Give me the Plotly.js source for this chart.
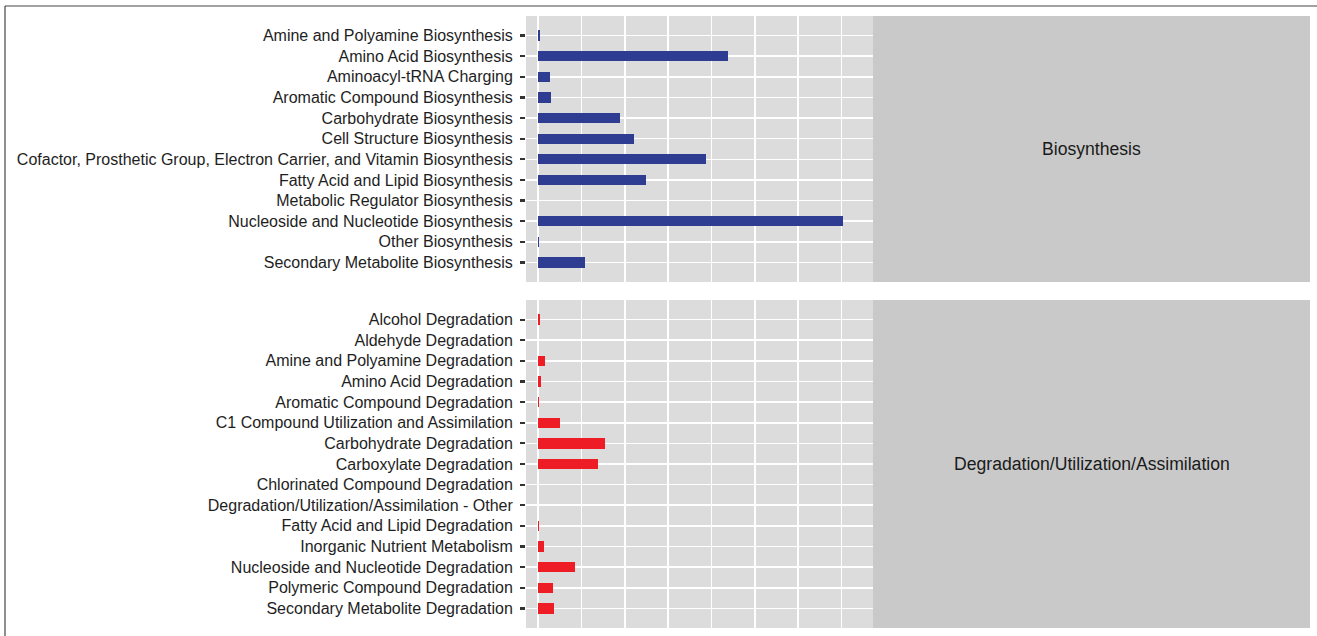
<!DOCTYPE html>
<html>
<head>
<meta charset="utf-8">
<script src="https://cdn.plot.ly/plotly-3.0.1.min.js"></script>
<style>
  html, body { margin: 0; padding: 0; background: #ffffff; }
  #chart { width: 1317px; height: 636px; }
</style>
</head>
<body>
<div id="chart"></div>
<script>
// ---- data ----
const bioCategories = [
  "Amine and Polyamine Biosynthesis",
  "Amino Acid Biosynthesis",
  "Aminoacyl-tRNA Charging",
  "Aromatic Compound Biosynthesis",
  "Carbohydrate Biosynthesis",
  "Cell Structure Biosynthesis",
  "Cofactor, Prosthetic Group, Electron Carrier, and Vitamin Biosynthesis",
  "Fatty Acid and Lipid Biosynthesis",
  "Metabolic Regulator Biosynthesis",
  "Nucleoside and Nucleotide Biosynthesis",
  "Other Biosynthesis",
  "Secondary Metabolite Biosynthesis"
];
const bioValues = [0.05, 4.38, 0.27, 0.30, 1.90, 2.22, 3.88, 2.48, 0, 7.04, 0.03, 1.08];

const degCategories = [
  "Alcohol Degradation",
  "Aldehyde Degradation",
  "Amine and Polyamine Degradation",
  "Amino Acid Degradation",
  "Aromatic Compound Degradation",
  "C1 Compound Utilization and Assimilation",
  "Carbohydrate Degradation",
  "Carboxylate Degradation",
  "Chlorinated Compound Degradation",
  "Degradation/Utilization/Assimilation - Other",
  "Fatty Acid and Lipid Degradation",
  "Inorganic Nutrient Metabolism",
  "Nucleoside and Nucleotide Degradation",
  "Polymeric Compound Degradation",
  "Secondary Metabolite Degradation"
];
const degValues = [0.05, 0, 0.15, 0.08, 0.02, 0.51, 1.55, 1.38, 0, 0, 0.03, 0.14, 0.85, 0.35, 0.37];

const facetLabels = ["Biosynthesis", "Degradation/Utilization/Assimilation"];

// ---- styling ----
const W = 1317, H = 636;
const L = 526, R = 873, T = 16, B = 628;
const plotW = R - L, plotH = B - T;
const px2x = p => (p - L) / plotW;
const px2y = p => (B - p) / plotH;

const panel1 = [16, 282], panel2 = [300, 628];
const stripR = 1310;
const font = "Liberation Sans, Arial, Helvetica, sans-serif";

const traces = [
  {
    type: "bar", orientation: "h",
    x: bioValues, y: bioCategories,
    xaxis: "x", yaxis: "y",
    width: 0.5,
    marker: { color: "#2e3d91", line: { width: 0 } },
    hoverinfo: "x+y"
  },
  {
    type: "bar", orientation: "h",
    x: degValues, y: degCategories,
    xaxis: "x2", yaxis: "y2",
    width: 0.5,
    marker: { color: "#ee1c25", line: { width: 0 } },
    hoverinfo: "x+y"
  }
];

const xCommon = {
  range: [-0.277, 7.728],
  dtick: 1, tick0: 0,
  showticklabels: false,
  ticks: "",
  showgrid: true, gridcolor: "#ffffff", gridwidth: 1.6,
  zeroline: false, showline: false,
  fixedrange: true
};
const yCommon = {
  type: "category",
  showgrid: true, gridcolor: "#ffffff", gridwidth: 1.6,
  ticks: "outside", ticklen: 5, tickwidth: 2.2, tickcolor: "#333333",
  ticklabelstandoff: 4,
  tickfont: { family: font, size: 16, color: "#1e1e1e" },
  zeroline: false, showline: false,
  automargin: false,
  fixedrange: true
};

const layout = {
  width: W, height: H,
  margin: { l: L, r: W - R, t: T, b: H - B, pad: 0 },
  paper_bgcolor: "#ffffff",
  plot_bgcolor: "#dcdcdc",
  showlegend: false,
  bargap: 0,
  xaxis: Object.assign({}, xCommon, { domain: [0, 1], anchor: "y" }),
  xaxis2: Object.assign({}, xCommon, { domain: [0, 1], anchor: "y2" }),
  yaxis: Object.assign({}, yCommon, {
    domain: [px2y(panel1[1]), px2y(panel1[0])],
    anchor: "x",
    categoryorder: "array", categoryarray: bioCategories,
    range: [bioCategories.length - 1 + 0.95, -0.95]
  }),
  yaxis2: Object.assign({}, yCommon, {
    domain: [px2y(panel2[1]), px2y(panel2[0])],
    anchor: "x2",
    categoryorder: "array", categoryarray: degCategories,
    range: [degCategories.length - 1 + 0.95, -0.95]
  }),
  shapes: [
    // strips
    { type: "rect", xref: "paper", yref: "paper", layer: "below",
      x0: 1, x1: px2x(stripR), y0: px2y(panel1[1]), y1: px2y(panel1[0]),
      fillcolor: "#c9c9c9", line: { width: 0 } },
    { type: "rect", xref: "paper", yref: "paper", layer: "below",
      x0: 1, x1: px2x(stripR), y0: px2y(panel2[1]), y1: px2y(panel2[0]),
      fillcolor: "#c9c9c9", line: { width: 0 } },
    // outer frame (top & left)
    { type: "line", xref: "paper", yref: "paper",
      x0: px2x(5), x1: px2x(W + 5), y0: px2y(6), y1: px2y(6),
      line: { color: "#444444", width: 1.2 } },
    { type: "line", xref: "paper", yref: "paper",
      x0: px2x(5), x1: px2x(5), y0: px2y(6), y1: px2y(H + 10),
      line: { color: "#444444", width: 1.2 } }
  ],
  annotations: [
    { xref: "paper", yref: "paper",
      x: px2x((R + stripR) / 2), y: px2y((panel1[0] + panel1[1]) / 2),
      text: facetLabels[0], showarrow: false,
      xanchor: "center", yanchor: "middle",
      font: { family: font, size: 17.6, color: "#1a1a1a" } },
    { xref: "paper", yref: "paper",
      x: px2x((R + stripR) / 2), y: px2y((panel2[0] + panel2[1]) / 2),
      text: facetLabels[1], showarrow: false,
      xanchor: "center", yanchor: "middle",
      font: { family: font, size: 17.6, color: "#1a1a1a" } }
  ]
};

Plotly.newPlot("chart", traces, layout, { displayModeBar: false, staticPlot: true });
</script>
</body>
</html>
